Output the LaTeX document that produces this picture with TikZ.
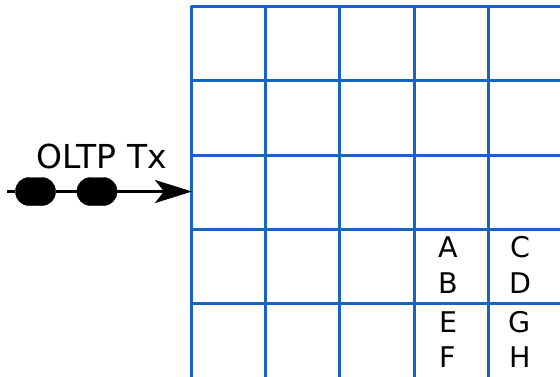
\documentclass[tikz,border=0pt]{standalone}
\usepackage{fontspec}
\setmainfont{DejaVu Sans}
\usetikzlibrary{positioning, arrows.meta}
\definecolor{cellblue}{RGB}{22,101,192}
\tikzset{
    gridline/.style={draw=cellblue, line width=3pt},
    txline/.style={draw, line width=2.6pt},
    txdot/.style={
        draw,
        fill=black,
        rounded corners=13.5pt,
        minimum width=40pt,
        minimum height=28pt,
        inner sep=0pt
    },
    cellval/.style={font=\fontsize{28.5}{28.5}\selectfont, anchor=base, inner sep=0pt},
    every edge/.style={
        draw,
        -{Stealth[length=37pt,width=23pt,inset=9pt]},
        line width=2.6pt
    }
}

\begin{document}
\begin{tikzpicture}[x=1pt,y=-1pt]
	\useasboundingbox (0,0) rectangle (560,376);
	% table of cells
	\foreach \y in {6,80,155,229,303} {
		\draw[gridline] (191,\y) -- (562,\y);
	}
	\foreach \x in {191,265,339,414,488} {
		\draw[gridline] (\x,6) -- (\x,378);
	}
	% incoming transaction
	\coordinate (start) at (7,191.5);
	\coordinate (entry) at (192,191.5);
	\node[txdot] at (35.5,191.5) (t1) {};
	\node[txdot] at (97,191.5) (t2) {};
	\node[font=\fontsize{33}{33}\selectfont, anchor=base, inner sep=0pt] at (102,168) (tx) {OLTP Tx};
	\draw[txline] (start) -- (t1) -- (t2);
	\draw (t2) edge (entry);
	% cell contents
	\node[cellval] at (448,257) (a) {A};
	\node[cellval] at (448,293) (b) {B};
	\node[cellval] at (448,332) (e) {E};
	\node[cellval] at (448,367) (f) {F};
	\node[cellval] at (520,257) (c) {C};
	\node[cellval] at (520,293) (d) {D};
	\node[cellval] at (520,332) (g) {G};
	\node[cellval] at (520,367) (h) {H};
\end{tikzpicture}
\end{document}
